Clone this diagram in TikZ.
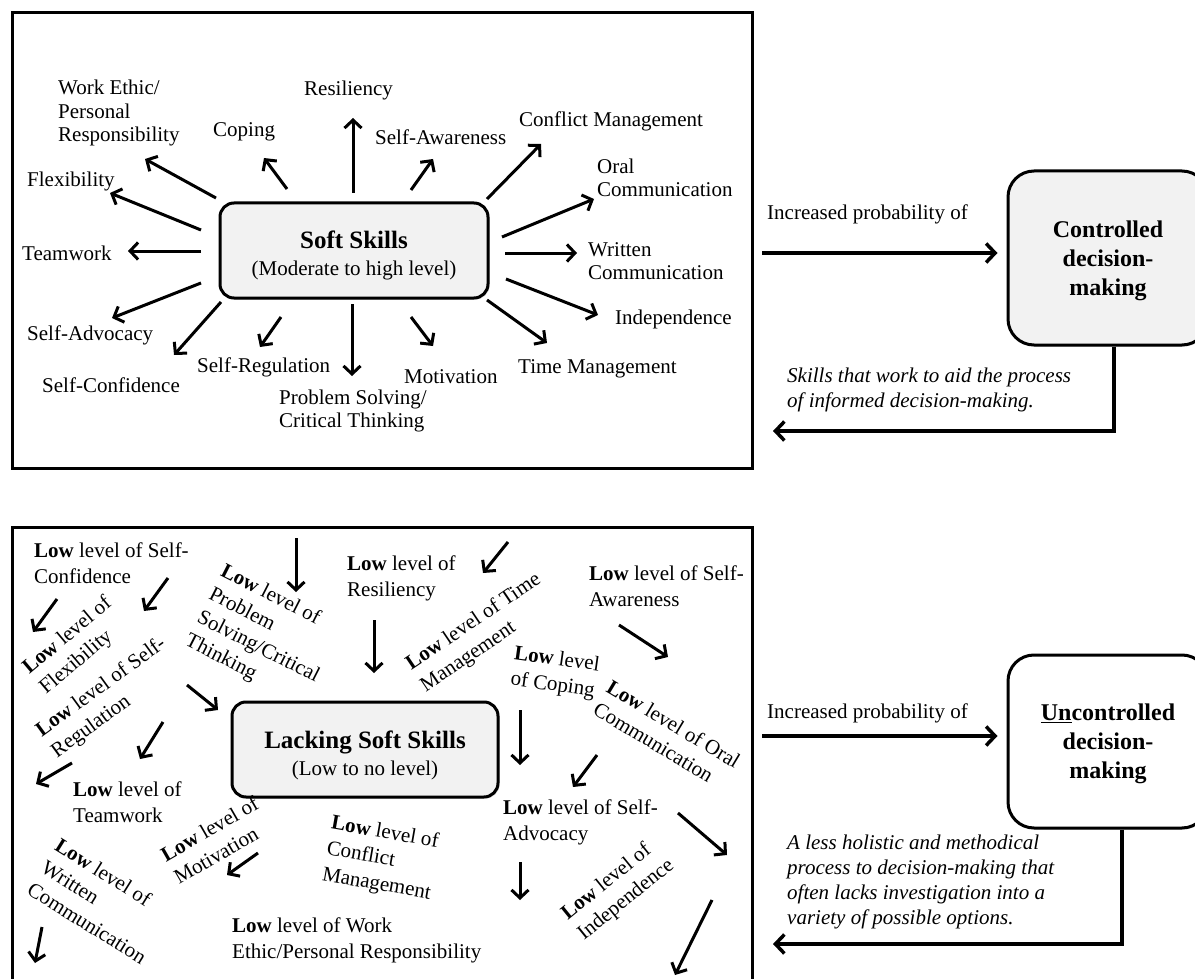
\documentclass[tikz,border=0pt]{standalone}
\usepackage{fontspec}
\setmainfont{Liberation Serif}
\usetikzlibrary{arrows.meta,shadows}
\definecolor{boxgray}{HTML}{F2F2F2}
\newcommand\lowb{\textbf{Low}}

\begin{document}
\begin{tikzpicture}[x=1pt,y=-1pt,
  lbl/.style={inner sep=0pt, align=left, font=\fontsize{21}{23.5}\selectfont},
  lowlbl/.style={inner sep=0pt, align=left, font=\fontsize{21}{26}\selectfont},
  note/.style={inner sep=0pt, align=left, font=\fontsize{21}{25}\selectfont\itshape},
  arr/.style={line width=3pt, -{Straight Barb[length=8pt,width=17pt]}},
  bigarr/.style={line width=3.5pt, line join=miter, -{Straight Barb[length=9pt,width=19pt]}},
  panel/.style={draw, line width=3pt, fill=white,
    drop shadow={opacity=0.3, shadow xshift=1.5pt, shadow yshift=-1.5pt}},
  skillbox/.style={draw, line width=3pt, rounded corners=14pt, fill=boxgray,
    align=center, inner sep=0pt, font=\fontsize{21}{27}\selectfont,
    drop shadow={opacity=0.3, shadow xshift=1.5pt, shadow yshift=-1.5pt}},
  decbox/.style={draw, line width=3pt, rounded corners=26pt, align=center,
    inner sep=0pt, font=\fontsize{24}{29}\selectfont\bfseries,
    drop shadow={opacity=0.3, shadow xshift=1.5pt, shadow yshift=-1.5pt}},
]
\useasboundingbox (0,0) rectangle (1195,979);

% ---------- panel frames ----------
\path[panel] (12,13) rectangle (752,468);
\path[panel] (12,527) rectangle (752,990);

% ---------- upper panel: soft skills ----------
% the strut lowers the two lines a little inside the box
\node[skillbox, minimum width=268pt, minimum height=95pt] (soft) at (354,250.5)
  {\rule{0pt}{28pt}{\fontsize{25}{27}\selectfont\bfseries Soft Skills}\\
   (Moderate to high level)};

\node[lbl, anchor=west] (workethic) at (58,113) {Work Ethic/\\Personal\\Responsibility};
\node[lbl, anchor=west] (coping)    at (213,132) {Coping};
\node[lbl, anchor=west] (resil)     at (304,90)  {Resiliency};
\node[lbl, anchor=west] (selfaw)    at (375,137) {Self-Awareness};
\node[lbl, anchor=west] (conflict)  at (519,121) {Conflict Management};
\node[lbl, anchor=west] (oral)      at (597,178) {Oral\\Communication};
\node[lbl, anchor=west] (flex)      at (27,181)  {Flexibility};
\node[lbl, anchor=west] (team)      at (22,253)  {Teamwork};
\node[lbl, anchor=west] (written)   at (588,261) {Written\\Communication};
\node[lbl, anchor=west] (indep)     at (615,319) {Independence};
\node[lbl, anchor=west] (advoc)     at (27,335)  {Self-Advocacy};
\node[lbl, anchor=west] (confid)    at (42,385)  {Self-Confidence};
\node[lbl, anchor=west] (regul)     at (197,367) {Self-Regulation};
\node[lbl, anchor=west] (problem)   at (279,411) {Problem Solving/\\Critical Thinking};
\node[lbl, anchor=west] (motiv)     at (404,377) {Motivation};
\node[lbl, anchor=west] (timem)     at (518,369) {Time Management};

% arrows radiating from the soft skills box
\foreach \n/\sx/\sy/\ex/\ey in {
  ta1/216/198/145/159, ta2/287/189/264/158, ta3/353/193/353/118,
  ta4/411/190/433/159, ta5/487/199/541/144, ta6/502/237/594/199,
  ta7/505/253/577/253, ta8/506/279/598/315, ta9/487/300/547/343,
  ta10/411/317/433/346, ta11/352/304/352/376, ta12/281/317/260/347,
  ta13/221/302/174/355, ta14/201/283/112/318, ta15/201/251/128/251,
  ta16/201/230/110/193}{
  \coordinate (\n-s) at (\sx,\sy);
  \coordinate (\n-e) at (\ex,\ey);
  \draw[arr] (\n-s) -- (\n-e);
}

% ---------- lower panel: lacking soft skills ----------
\node[skillbox, minimum width=266pt, minimum height=95pt] (lack) at (365,749.5)
  {\rule{0pt}{29pt}{\fontsize{25}{27}\selectfont\bfseries Lacking Soft Skills}\\
   (Low to no level)};

\node[lowlbl, anchor=west] (confb) at (34,563.5) {\lowb{} level of Self-\\Confidence};
\node[lowlbl, anchor=west] (resb)  at (347,578)  {\lowb{} level of\\Resiliency};
\node[lowlbl, anchor=west] (awb)   at (589,586)  {\lowb{} level of Self-\\Awareness};
\node[lowlbl, anchor=west] (teamb) at (73,802)   {\lowb{} level of\\Teamwork};
\node[lowlbl, anchor=west] (advb)  at (503,822)  {\lowb{} level of Self-\\Advocacy};
\node[lowlbl, anchor=west] (workb) at (232,940)  {\lowb{} level of Work\\Ethic/Personal Responsibility};

\node[lowlbl, rotate=40]  (flexb)  at (76,646)  {\lowb{} level of\\Flexibility};
\node[lowlbl, rotate=36]  (regb)   at (109,698) {\lowb{} level of Self-\\Regulation};
\node[lowlbl, rotate=-27] (probb)  at (264,636) {\lowb{} level of\\Problem\\Solving/Critical\\Thinking};
\node[lowlbl, rotate=30]  (motb)   at (216,840) {\lowb{} level of\\Motivation};
\node[lowlbl, rotate=-32] (writb)  at (101,901) {\lowb{} level of\\Written\\Communication};
\node[lowlbl, rotate=34]  (timeb)  at (481,633) {\lowb{} level of Time\\Management};
\node[lowlbl, rotate=-8]  (copb)   at (555,673) {\lowb{} level\\of Coping};
\node[lowlbl, rotate=-31] (oralb)  at (667,735) {\lowb{} level of Oral\\Communication};
\node[lowlbl, rotate=39]  (indb)   at (618,890) {\lowb{} level of\\Independence};
\node[lowlbl, rotate=-10] (confmb) at (381,859) {\lowb{} level of\\Conflict\\Management};

% scattered arrows
\foreach \n/\sx/\sy/\ex/\ey in {
  ba1/57/599/33/632, ba2/168/578/144/611, ba3/296/538/296/592,
  ba4/374/620/374/673, ba5/508/542/483/573, ba6/619/625/668/657,
  ba7/187/685/218/710, ba8/163/722/140/759, ba9/72/763/36/784,
  ba10/520/710/520/765, ba11/597/755/573/787, ba12/678/813/727/855,
  ba13/520/862/520/900, ba14/258/853/227/875, ba15/42/927/35/963,
  ba16/712/900/675/975}{
  \coordinate (\n-s) at (\sx,\sy);
  \coordinate (\n-e) at (\ex,\ey);
  \draw[arr] (\n-s) -- (\n-e);
}

% ---------- decision-making outcomes ----------
\node[decbox, fill=boxgray, minimum width=200pt, minimum height=174pt] (ctrl) at (1108,258)
  {\rule{0pt}{22pt}Controlled\\decision-\\making};
\node[decbox, fill=white, minimum width=200pt, minimum height=173pt] (unc) at (1108,741.5)
  {\rule{0pt}{22pt}\underline{Un}controlled\\decision-\\making};

\node[lbl, anchor=west] (inc1) at (767,214) {Increased probability of};
\node[lbl, anchor=west] (inc2) at (767,713) {Increased probability of};

\coordinate (out1) at (762,253);
\coordinate (out2) at (762,736);
\draw[bigarr, shorten >=9pt] (out1) -- (out1 -| ctrl.west);
\draw[bigarr, shorten >=9pt] (out2) -- (out2 -| unc.west);

\node[note, anchor=west] (note1) at (787,389.5)
  {Skills that work to aid the process\\of informed decision-making.};
\node[note, anchor=west] (note2) at (787,881.5)
  {A less holistic and methodical\\process to decision-making that\\often lacks investigation into a\\variety of possible options.};

\coordinate (back1) at (773,431);
\coordinate (back2) at (773,944);
\draw[bigarr] ([xshift=6pt]ctrl.south) |- (back1);
\draw[bigarr] ([xshift=14pt]unc.south) |- (back2);

\end{tikzpicture}
\end{document}
